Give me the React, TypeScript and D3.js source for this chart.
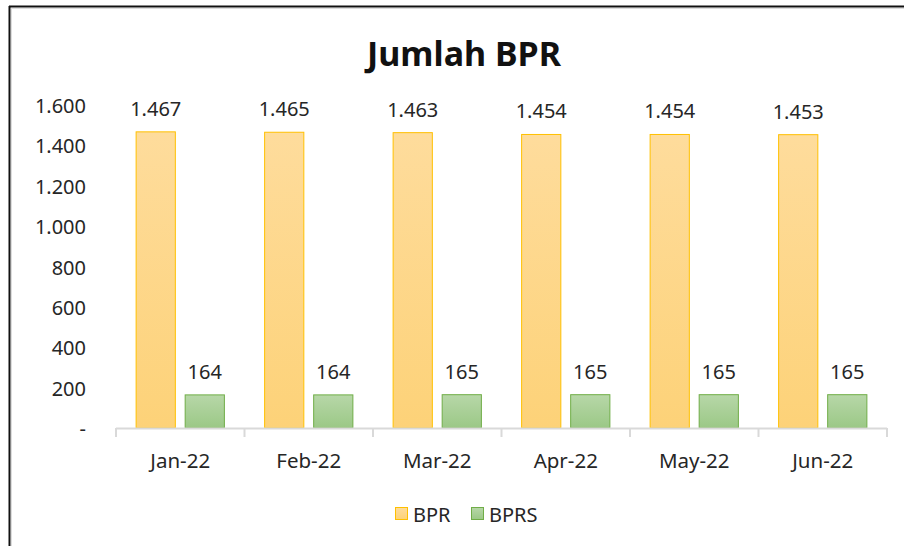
import React from "react";
import * as d3 from "d3";

const categories = ["Jan-22", "Feb-22", "Mar-22", "Apr-22", "May-22", "Jun-22"];
const bprValues = [1467, 1465, 1463, 1454, 1454, 1453];
const bprsValues = [164, 164, 165, 165, 165, 165];
const yTicks = [0, 200, 400, 600, 800, 1000, 1200, 1400, 1600];
const seriesNames = ["BPR", "BPRS"];

const W = 904;
const H = 546;
const FONT = "'Noto Sans', 'Open Sans', sans-serif";

const fmt = (v: number) => (v === 0 ? "-" : d3.format(",")(v).replace(/,/g, "."));

export default function App() {
  const x0 = d3.scaleBand<string>().domain(categories).range([116, 887]).paddingInner(0).paddingOuter(0);
  const x1 = d3.scaleBand<string>().domain(seriesNames).range([0, x0.bandwidth()]).paddingInner(0.18).paddingOuter(0.4);
  const y = d3.scaleLinear().domain([0, 1600]).range([428, 105]);

  const series = [
    { name: "BPR", values: bprValues, fill: "url(#gBPR)", stroke: "#FFC000" },
    { name: "BPRS", values: bprsValues, fill: "url(#gBPRS)", stroke: "#70AD47" },
  ];

  return (
    <svg width={W} height={H} style={{ position: "absolute", left: 0, top: 0, background: "#fff" }} fontFamily={FONT}>
      <defs>
        <linearGradient id="gBPR" x1="0" y1="0" x2="0" y2="1">
          <stop offset="0" stopColor="#FEDC9C" />
          <stop offset="1" stopColor="#FDD278" />
        </linearGradient>
        <linearGradient id="gBPRS" x1="0" y1="0" x2="0" y2="1">
          <stop offset="0" stopColor="#B7D7A8" />
          <stop offset="1" stopColor="#9BC886" />
        </linearGradient>
      </defs>
      <rect x={0} y={0} width={W} height={H} fill="#fff" />
      <line x1={9.5} y1={6} x2={9.5} y2={H} stroke="#111" strokeWidth={2} />
      <line x1={9} y1={6.5} x2={W} y2={6.5} stroke="#111" strokeWidth={2} />
      <line x1={11.5} y1={8} x2={11.5} y2={H} stroke="#ddd" strokeWidth={1} />
      <line x1={11} y1={8.5} x2={W} y2={8.5} stroke="#ddd" strokeWidth={1} />

      <text x={464} y={66} textAnchor="middle" fontSize={34} fontWeight="bold" fill="#111">Jumlah BPR</text>

      {yTicks.map((t) => (
        <text key={t} x={86} y={y(t) + 8} textAnchor="end" fontSize={20} fill="#262626">{fmt(t)}</text>
      ))}

      {series.map((s) =>
        categories.map((c, i) => {
          const bx = (x0(c) as number) + (x1(s.name) as number);
          const bw = x1.bandwidth();
          return (
            <g key={s.name + c}>
              <rect x={bx + 0.5} y={y(s.values[i])} width={bw - 1} height={y(0) - y(s.values[i])} fill={s.fill} stroke={s.stroke} strokeWidth={1} />
              <text x={bx + bw / 2} y={y(s.values[i]) - 16} textAnchor="middle" fontSize={20} fill="#262626">{fmt(s.values[i])}</text>
            </g>
          );
        })
      )}

      <line x1={116} x2={887} y1={428.5} y2={428.5} stroke="#d9d9d9" strokeWidth={2} />
      {d3.range(categories.length + 1).map((i) => {
        const tx = 116 + i * x0.bandwidth();
        return <line key={i} x1={tx} x2={tx} y1={428} y2={437} stroke="#d9d9d9" strokeWidth={2} />;
      })}
      {categories.map((c) => (
        <text key={c} x={(x0(c) as number) + x0.bandwidth() / 2} y={468} textAnchor="middle" fontSize={20.5} fill="#262626">{c}</text>
      ))}

      {series.map((s, i) => {
        const lx = i === 0 ? 395 : 471;
        return (
          <g key={s.name}>
            <rect x={lx + 0.5} y={507.5} width={12} height={12} fill={s.fill} stroke={s.stroke} strokeWidth={1} />
            <text x={lx + 18} y={522} fontSize={20} fill="#262626">{s.name}</text>
          </g>
        );
      })}
    </svg>
  );
}
